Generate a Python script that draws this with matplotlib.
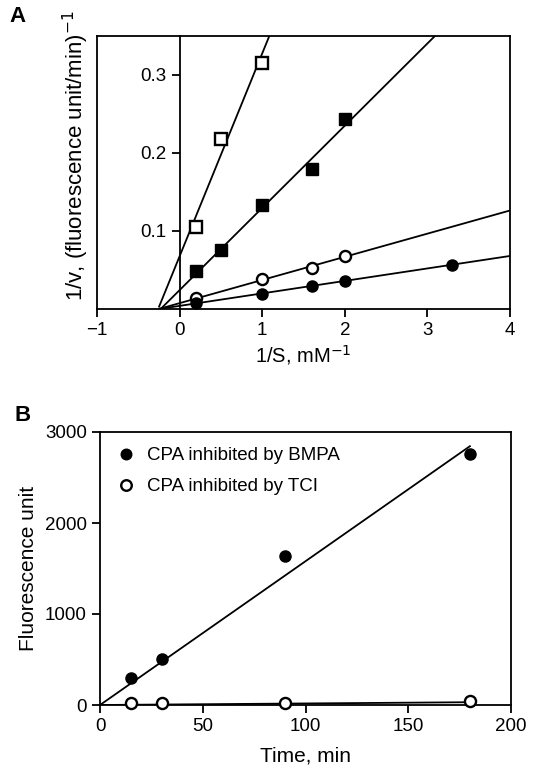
import numpy as np
import matplotlib
matplotlib.use("Agg")
import matplotlib.pyplot as plt

plt.rcParams['font.family'] = ['Liberation Sans', 'DejaVu Sans']

# ---- Panel A: double-reciprocal data ----
invS_open_sq = [0.2, 0.5, 1.0]
invV_open_sq = [0.105, 0.218, 0.316]
invS_fill_sq = [0.2, 0.5, 1.0, 1.6, 2.0]
invV_fill_sq = [0.049, 0.075, 0.133, 0.179, 0.244]
invS_open_ci = [0.2, 1.0, 1.6, 2.0]
invV_open_ci = [0.014, 0.038, 0.052, 0.068]
invS_fill_ci = [0.2, 1.0, 1.6, 2.0, 3.3]
invV_fill_ci = [0.008, 0.019, 0.029, 0.036, 0.056]

# fitted lines (slope, intercept)
fit_open_sq = (0.260, 0.0676)
fit_fill_sq = (0.1054, 0.0242)
fit_open_ci = (0.0297, 0.0075)
fit_fill_ci = (0.0160, 0.0040)

# ---- Panel B: time course ----
time_min = [15, 30, 90, 180]
fluo_bmpa = [300, 510, 1640, 2760]
fluo_tci = [20, 20, 20, 40]
fit_bmpa = (15.8, 0.0)
fit_tci = (0.17, 0.0)

f_tick = 13.5
f_lab = 14.5

fig = plt.figure(figsize=(5.33, 7.69), dpi=100)
W, H = 533, 769

# axes A: pixel box left 97, right 510, top 36, bottom 309
axA = fig.add_axes([97 / W, 1 - 309 / H, (510 - 97) / W, (309 - 36) / H])
axA.set_xlim(-1, 4)
axA.set_ylim(0, 0.35)

x_line = np.linspace(-1, 4, 400)
for (m, b) in [fit_open_sq, fit_fill_sq, fit_open_ci, fit_fill_ci]:
    y = m * x_line + b
    ok = y >= 0
    axA.plot(x_line[ok], y[ok], color='k', lw=1.3, zorder=2)

ms = 8
axA.plot(invS_open_sq, invV_open_sq, 's', ms=ms, mfc='white', mec='k', mew=1.7, zorder=3)
axA.plot(invS_fill_sq, invV_fill_sq, 's', ms=ms, mfc='k', mec='k', zorder=3)
axA.plot(invS_open_ci, invV_open_ci, 'o', ms=ms, mfc='white', mec='k', mew=1.7, zorder=3)
axA.plot(invS_fill_ci, invV_fill_ci, 'o', ms=ms, mfc='k', mec='k', zorder=3)

# y axis sits at x = 0, frame stays closed
axA.spines['left'].set_position(('data', 0))
axA.axvline(-1, color='k', lw=1.3, clip_on=False)
for sp in axA.spines.values():
    sp.set_linewidth(1.3)
axA.set_xticks([-1, 0, 1, 2, 3, 4])
axA.set_xticklabels(['\u22121', '0', '1', '2', '3', '4'])
axA.set_yticks([0.1, 0.2, 0.3])
axA.set_yticklabels(['0.1', '0.2', '0.3'])
axA.tick_params(axis='both', direction='out', length=6, width=1.3, labelsize=f_tick)
axA.set_xlabel('1/S, mM$^{-1}$', fontsize=f_lab, labelpad=3)
fig.text(76 / W, 1 - 156 / H, '1/v, (fluorescence unit/min)$^{-1}$', rotation=90,
         ha='center', va='center', fontsize=16)

fig.text(9 / W, 1 - 17 / H, 'A', fontsize=16, fontweight='bold', va='center')

# axes B: pixel box left 100, right 511, top 432, bottom 705
axB = fig.add_axes([100 / W, 1 - 705 / H, (511 - 100) / W, (705 - 432) / H])
axB.set_xlim(0, 200)
axB.set_ylim(0, 3000)

t_line = np.linspace(0, 180, 100)
axB.plot(t_line, fit_bmpa[0] * t_line + fit_bmpa[1], color='k', lw=1.3, zorder=2)
axB.plot(t_line, fit_tci[0] * t_line + fit_tci[1], color='k', lw=1.3, zorder=2)
axB.plot(time_min, fluo_bmpa, 'o', ms=ms, mfc='k', mec='k', zorder=3,
         label='CPA inhibited by BMPA')
axB.plot(time_min, fluo_tci, 'o', ms=ms, mfc='white', mec='k', mew=1.7, zorder=3,
         label='CPA inhibited by TCI', clip_on=False)

for sp in axB.spines.values():
    sp.set_linewidth(1.3)
axB.set_xticks([0, 50, 100, 150, 200])
axB.set_yticks([0, 1000, 2000, 3000])
axB.tick_params(axis='both', direction='out', length=6, width=1.3, labelsize=f_tick)
axB.set_xlabel('Time, min', fontsize=15, labelpad=8)
axB.set_ylabel('Fluorescence unit', fontsize=15, labelpad=5)
axB.legend(loc='upper left', frameon=False, fontsize=f_tick, handletextpad=0.5,
           labelspacing=0.75, borderaxespad=0.4, handlelength=1.2, markerscale=0.95)

fig.text(15 / W, 1 - 415 / H, 'B', fontsize=16, fontweight='bold', va='center')

fig.savefig('out.png', dpi=100)
